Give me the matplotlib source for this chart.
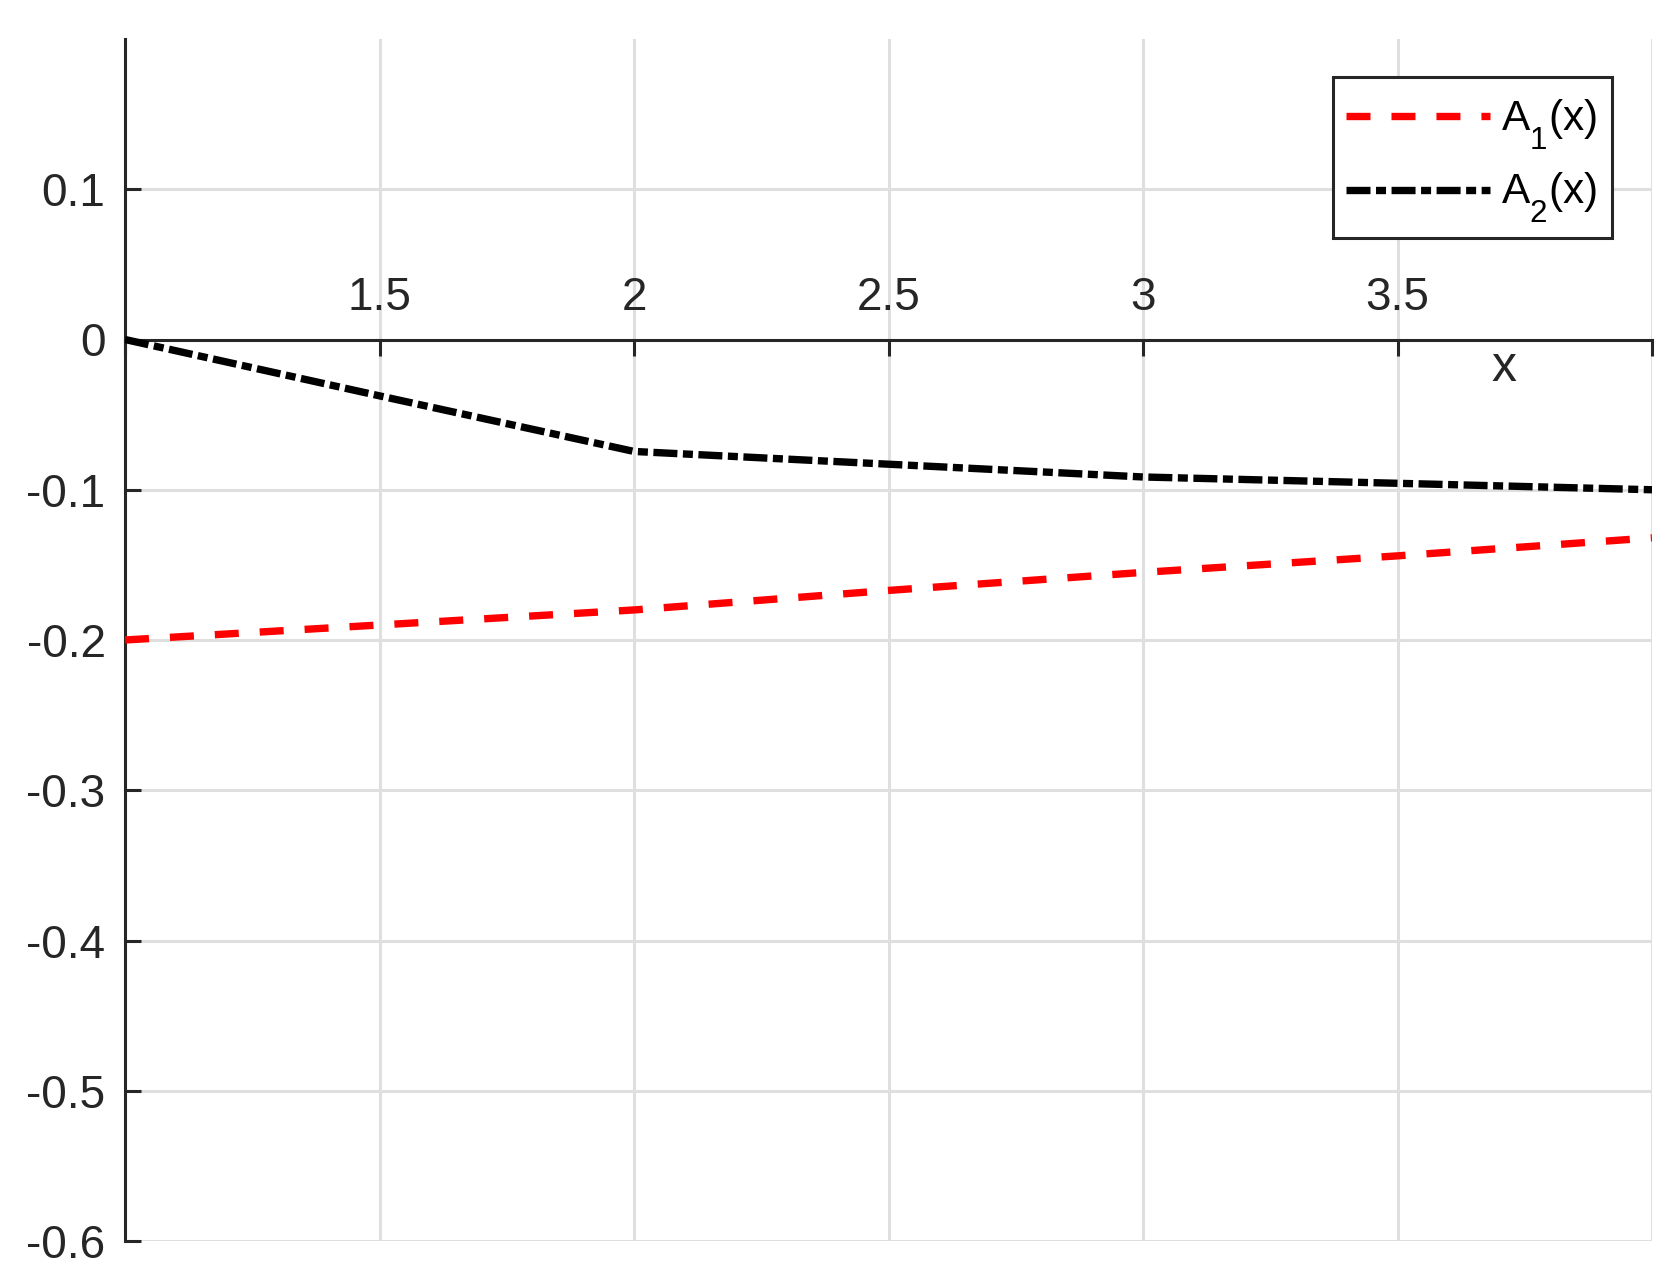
import matplotlib
matplotlib.use("Agg")
import matplotlib.pyplot as plt
from matplotlib.ticker import FixedLocator

try:
    import matplotlib._mathtext as _mt
    _mt.FontConstantsBase.sub1 = 0.83
    _mt.FontConstantsBase.subdrop = 0.83
    _mt.SHRINK_FACTOR = 0.74
except Exception:
    pass

# ---- data ----
x_vals = [1.0, 1.5, 2.0, 2.5, 3.0, 3.5, 4.0]
a1_vals = [-0.200, -0.190, -0.180, -0.167, -0.155, -0.144, -0.132]
a2_vals = [0.000, -0.0375, -0.0745, -0.083, -0.0915, -0.0957, -0.100]
series_labels = ['A$_1$(x)\u2009', 'A$_2$(x)\u2009']
x_ticks = [1.0, 1.5, 2.0, 2.5, 3.0, 3.5, 4.0]
x_tick_labels = ['', '1.5', '2', '2.5', '3', '3.5', '']
y_ticks = [-0.6, -0.5, -0.4, -0.3, -0.2, -0.1, 0.0, 0.1]
y_tick_labels = ['-0.6', '-0.5', '-0.4', '-0.3', '-0.2', '-0.1', '0', '0.1']

plt.rcParams['font.family'] = ['Liberation Sans', 'DejaVu Sans']
plt.rcParams['mathtext.default'] = 'regular'

W, H = 1678, 1288
fig = plt.figure(figsize=(W / 100, H / 100), dpi=100)
left, right, top, bottom = 125, 1652, 39, 1241
ax = fig.add_axes([left / W, 1 - bottom / H, (right - left) / W, (bottom - top) / H])

axis_col = '#262626'
grid_col = '#dfdfdf'

ax.set_xlim(1, 4)
ax.set_ylim(-0.6, 0.2)

l1, = ax.plot(x_vals, a1_vals, color='#ff0000', lw=5.3, label=series_labels[0],
              dashes=(3.26, 2.85), dash_capstyle='butt', zorder=3)
l2, = ax.plot(x_vals, a2_vals, color='#000000', lw=5.3, label=series_labels[1],
              dashes=(3.26, 0.75, 1.36, 0.75), dash_capstyle='butt', zorder=3)

# spines
for s in ['right', 'bottom']:
    ax.spines[s].set_visible(False)
ax.spines['top'].set_position(('data', 0))
ax.spines['top'].set_color(axis_col)
ax.spines['top'].set_linewidth(2.2)
ax.spines['left'].set_color(axis_col)
ax.spines['left'].set_linewidth(2.2)

ax.xaxis.set_ticks_position('top')
ax.xaxis.set_major_locator(FixedLocator(x_ticks))
ax.set_xticklabels(x_tick_labels)
ax.yaxis.set_major_locator(FixedLocator(y_ticks))
ax.set_yticklabels(y_tick_labels)

ax.tick_params(axis='x', direction='in', length=11.8, width=2.2, color=axis_col,
               labelsize=33, labelcolor=axis_col, pad=14)
ax.tick_params(axis='y', direction='in', length=11.8, width=2.2, color=axis_col,
               labelsize=33, labelcolor=axis_col, pad=14)

ax.grid(True, color=grid_col, lw=2.2, zorder=0)
ax.set_axisbelow(True)

ax.text(3.71, -0.0187, 'x', fontsize=36, color=axis_col, ha='center', va='center')

leg = ax.legend(handles=[l1, l2], loc='upper left',
                bbox_to_anchor=(1333 / W, 1 - 77 / H), bbox_transform=fig.transFigure,
                fontsize=30.5, frameon=True, fancybox=False, framealpha=1,
                handlelength=3.4, handletextpad=0.26, borderpad=0.3,
                labelspacing=0.45, borderaxespad=0,
                title=' ', title_fontsize=1)
leg.get_frame().set_edgecolor(axis_col)
leg.get_frame().set_linewidth(2.2)
try:
    leg._legend_box.sep = 5.4
except Exception:
    pass

fig.savefig('out.png', dpi=100)
